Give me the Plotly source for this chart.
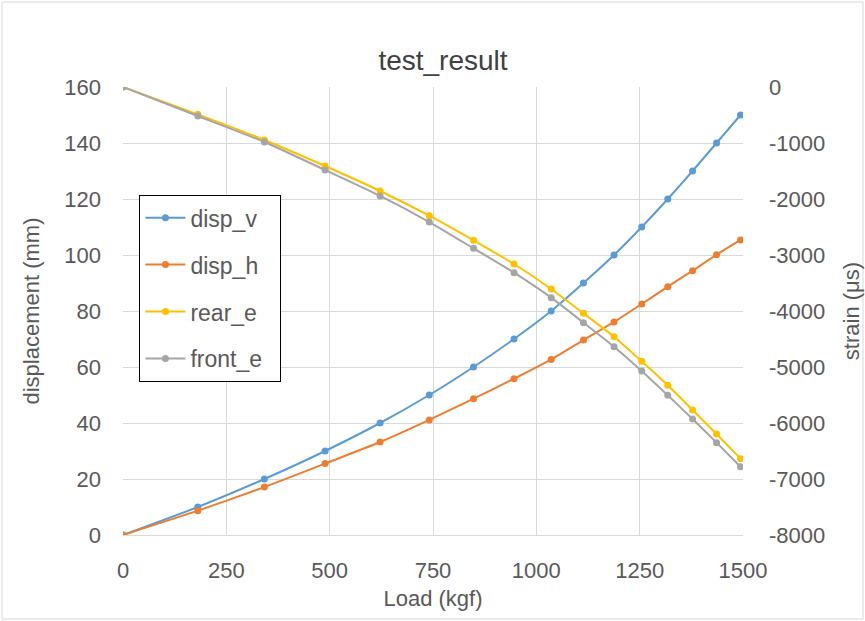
import plotly.graph_objects as go

load = [0, 181, 342, 489, 622, 741, 848, 946, 1036, 1114, 1188, 1255, 1318, 1378, 1436, 1494]
disp_v = [0, 10, 20, 30, 40, 50, 60, 70, 80, 90, 100, 110, 120, 130, 140, 150]
disp_h = [0, 8.7, 17.1, 25.5, 33.2, 41.1, 48.7, 55.8, 62.7, 69.6, 76.1, 82.5, 88.7, 94.4, 100.1, 105.4]
rear_e = [0, -488, -946, -1411, -1857, -2298, -2738, -3161, -3607, -4042, -4458, -4899, -5327, -5768, -6196, -6637]
front_e = [0, -518, -982, -1482, -1946, -2411, -2881, -3315, -3762, -4208, -4637, -5071, -5506, -5929, -6351, -6780]
strain_ticks = [0, -1000, -2000, -3000, -4000, -5000, -6000, -7000, -8000]
strain_labels = ["0", "-1000", "-2000", "-3000", "-4000", "-5000", "-6000", "-7000", "-8000"]

FONT = "Liberation Sans, Arial, sans-serif"
TXT = "#595959"
PAD = "\u00a0\u00a0"

series = [
    ("disp_v", disp_v, "#5B9BD5", "y"),
    ("disp_h", disp_h, "#ED7D31", "y"),
    ("rear_e", rear_e, "#FFC000", "y2"),
    ("front_e", front_e, "#A5A5A5", "y2"),
]

fig = go.Figure()
for name, vals, col, ax in series:
    fig.add_trace(go.Scatter(
        x=load, y=vals, name=name + PAD, yaxis=ax, legendgroup=name,
        mode="lines+markers",
        line=dict(color=col, width=2, shape="spline", smoothing=0.6),
        marker=dict(color=col, size=7),
    ))

fig.update_layout(
    width=865, height=621,
    margin=dict(l=123, r=122, t=87, b=86, autoexpand=False),
    paper_bgcolor="white", plot_bgcolor="white",
    font=dict(family=FONT, color=TXT, size=22),
    title=dict(text="test_result", x=0.5 + 10/620, xref="paper", xanchor="center",
               y=0.903, yanchor="middle", font=dict(size=28, color="#404040")),
    xaxis=dict(range=[0, 1500], dtick=250, showgrid=True, gridcolor="#d9d9d9", gridwidth=1,
               zeroline=False, showline=True, linecolor="#d9d9d9", ticks="",
               ticklabelstandoff=16, automargin=False,
               tickfont=dict(size=22), title=dict(text="Load (kgf)", font=dict(size=22), standoff=8)),
    yaxis=dict(range=[0, 160], dtick=20, showgrid=True, gridcolor="#d9d9d9", zeroline=False,
               ticks="", tickfont=dict(size=22), ticklabelstandoff=21, automargin=False,
               title=dict(text="displacement (mm)", font=dict(size=22), standoff=18)),
    yaxis2=dict(range=[-8000, 0], tickvals=strain_ticks, ticktext=strain_labels,
                overlaying="y", side="right", showgrid=False, automargin=False,
                zeroline=False, ticks="", tickfont=dict(size=22), ticklabelstandoff=25,
                title=dict(text="strain (μs)", font=dict(size=22), standoff=19)),
    legend=dict(x=0.026, y=0.759, xanchor="left", yanchor="top",
                bordercolor="black", borderwidth=1.3, bgcolor="white",
                font=dict(size=23, color=TXT), tracegroupgap=14, traceorder="grouped",
                itemwidth=40),
    showlegend=True,
)

fig.add_shape(type="rect", xref="paper", yref="paper",
              x0=-121/620, x1=740/620, y0=-84/448, y1=85/448 + 1,
              line=dict(color="#d9d9d9", width=1), fillcolor="rgba(0,0,0,0)", layer="below")

fig.write_html("out.html", config={"displayModeBar": False},
               post_script="document.body.style.margin='0';document.body.style.overflow='hidden';")
